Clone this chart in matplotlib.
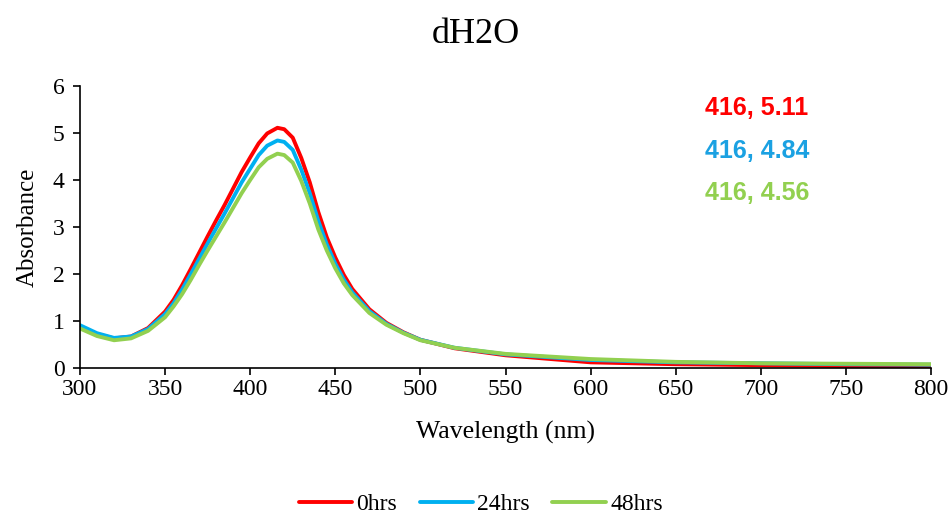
import matplotlib.pyplot as plt

# wavelength grid (nm) and absorbance readings for each time point
wavelength = [300, 310, 320, 330, 340, 350, 355, 360, 365, 370, 375, 380, 385, 390, 395,
              400, 405, 410, 416, 420, 425, 430, 435, 440, 445, 450, 455, 460, 470, 480,
              490, 500, 520, 550, 600, 650, 700, 750, 800]
abs_0h = [0.88, 0.72, 0.63, 0.67, 0.85, 1.20, 1.45, 1.76, 2.10, 2.45, 2.80, 3.14, 3.47, 3.82, 4.17,
          4.48, 4.78, 4.99, 5.11, 5.08, 4.90, 4.47, 3.95, 3.32, 2.78, 2.35, 1.98, 1.68, 1.25, 0.96,
          0.76, 0.60, 0.42, 0.27, 0.12, 0.08, 0.06, 0.04, 0.03]
abs_24h = [0.91, 0.74, 0.64, 0.67, 0.83, 1.15, 1.38, 1.67, 1.99, 2.32, 2.65, 2.97, 3.29, 3.62, 3.95,
           4.24, 4.53, 4.73, 4.84, 4.81, 4.64, 4.22, 3.72, 3.13, 2.63, 2.22, 1.88, 1.61, 1.21, 0.94,
           0.75, 0.60, 0.43, 0.29, 0.17, 0.12, 0.10, 0.08, 0.07]
abs_48h = [0.84, 0.68, 0.59, 0.63, 0.79, 1.08, 1.31, 1.57, 1.87, 2.19, 2.50, 2.80, 3.10, 3.41, 3.72,
           4.00, 4.27, 4.45, 4.56, 4.53, 4.37, 3.98, 3.50, 2.95, 2.50, 2.12, 1.80, 1.55, 1.17, 0.92,
           0.74, 0.59, 0.43, 0.30, 0.19, 0.13, 0.10, 0.09, 0.08]

labels = ["0hrs", "24hrs", "48hrs"]
peak_wl = 416
peak_vals = [5.11, 4.84, 4.56]

line_colors = ["#FF0000", "#00B0F0", "#92D050"]
text_colors = ["#FF0000", "#1BA1E2", "#92D050"]

serif = ["Liberation Serif", "DejaVu Serif"]

fig = plt.figure(figsize=(9.52, 5.13), dpi=100, facecolor="white")
ax = fig.add_axes([0.084, 0.2827, 0.894, 0.5497])

for y, lab, c in zip([abs_0h, abs_24h, abs_48h], labels, line_colors):
    ax.plot(wavelength, y, color=c, lw=2.8, label=lab,
            solid_capstyle="round", solid_joinstyle="round")

ax.set_xlim(300, 800)
ax.set_ylim(0, 6)
ax.set_xticks(range(300, 801, 50))
ax.set_yticks(range(0, 7))

for s in ["top", "right"]:
    ax.spines[s].set_visible(False)
for s in ["left", "bottom"]:
    ax.spines[s].set_linewidth(1.2)
ax.tick_params(direction="out", length=5, width=1.2, labelsize=17, pad=3)
ax.tick_params(axis="y", pad=6)
for t in ax.get_xticklabels() + ax.get_yticklabels():
    t.set_fontfamily(serif)

ax.set_xlabel("Wavelength (nm)", fontsize=18.5, family=serif, labelpad=15)
ax.set_ylabel("Absorbance", fontsize=18, family=serif, labelpad=10)
fig.text(0.5, 0.932, "dH2O", ha="center", va="center", fontsize=26, family=serif)

# peak annotations
for i, (v, c) in enumerate(zip(peak_vals, text_colors)):
    fig.text(757 / 952, 1 - (108 + 42.5 * i) / 513, f"{peak_wl}, {v:.2f}",
             ha="center", va="center", fontsize=18, fontweight="bold",
             color=c, family=["Liberation Sans", "DejaVu Sans"])

fig.legend(loc="lower center", bbox_to_anchor=(0.505, -0.045), ncol=3, frameon=False,
           handlelength=2.25, columnspacing=0.95, handletextpad=0.2,
           prop={"family": serif, "size": 17})

fig.savefig("out.png", dpi=100, facecolor="white")
